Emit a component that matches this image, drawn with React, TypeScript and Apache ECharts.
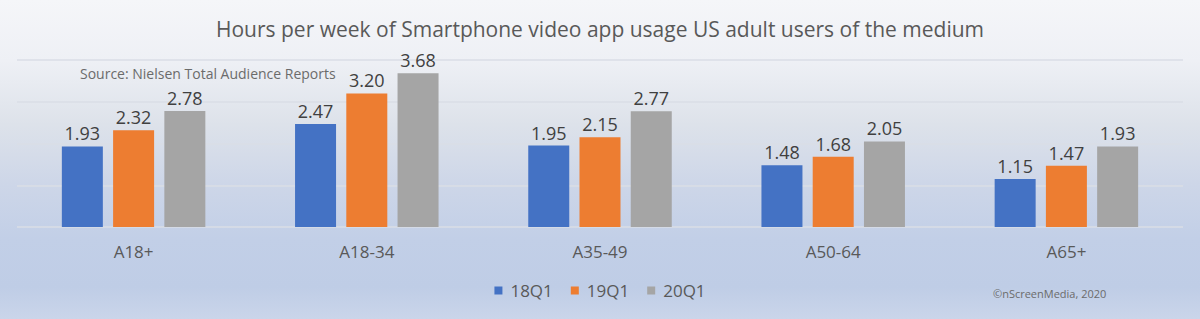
import React, { useEffect, useRef } from "react";
import * as echarts from "echarts";

const categories = ["A18+", "A18-34", "A35-49", "A50-64", "A65+"];
const seriesNames = ["18Q1", "19Q1", "20Q1"];
const q18 = [1.93, 2.47, 1.95, 1.48, 1.15];
const q19 = [2.32, 3.2, 2.15, 1.68, 1.47];
const q20 = [2.78, 3.68, 2.77, 2.05, 1.93];
const colors = ["#4472C4", "#ED7D31", "#A5A5A5"];
const yTicks = [0, 1, 2, 3, 4];

const FONT = "'Open Sans', 'Liberation Sans', sans-serif";

export default function App() {
  const ref = useRef<HTMLDivElement>(null);
  useEffect(() => {
    document.body.style.margin = "0";
    if (!ref.current) return;
    const chart = echarts.init(ref.current, null, { renderer: "svg" });
    const data = [q18, q19, q20];
    chart.setOption({
      animation: false,
      backgroundColor: {
        type: "linear",
        x: 0,
        y: 0,
        x2: 0,
        y2: 1,
        colorStops: [
          { offset: 0, color: "#f5f6f9" },
          { offset: 0.19, color: "#eef0f5" },
          { offset: 0.39, color: "#dde2ea" },
          { offset: 0.58, color: "#cdd6e8" },
          { offset: 0.75, color: "#c2cfe7" },
          { offset: 0.9, color: "#bfcde6" },
          { offset: 1, color: "#cad5ea" },
        ],
      },
      title: {
        text: "Hours per week of Smartphone video app usage US adult users of the medium",
        left: "center",
        top: 13,
        textStyle: { fontFamily: FONT, fontSize: 21, fontWeight: "normal", color: "#595959" },
      },
      legend: {
        data: seriesNames,
        bottom: 15,
        left: "center",
        itemWidth: 8,
        itemHeight: 8,
        itemGap: 18,
        icon: "rect",
        textStyle: { fontFamily: FONT, fontSize: 17, color: "#595959", padding: [0, 0, 0, 3] },
      },
      grid: { left: 17, right: 17, top: 60, bottom: 92 },
      xAxis: {
        type: "category",
        data: categories,
        axisLine: { show: false },
        axisTick: { show: false },
        axisLabel: { fontFamily: FONT, fontSize: 17, color: "#595959", margin: 16 },
      },
      yAxis: {
        type: "value",
        min: yTicks[0],
        max: yTicks[yTicks.length - 1],
        interval: 1,
        axisLabel: { show: false },
        axisLine: { show: false },
        axisTick: { show: false },
        splitLine: { lineStyle: { color: "#dadee6", width: 1.5 } },
      },
      series: seriesNames.map((name, i) => ({
        name,
        type: "bar",
        data: data[i],
        barWidth: 41,
        barGap: "25%",
        itemStyle: { color: colors[i] },
        label: {
          show: true,
          position: "top",
          distance: 4,
          fontFamily: FONT,
          fontSize: 18,
          color: "#404040",
          formatter: (p: any) => Number(p.value).toFixed(2),
        },
      })),
      graphic: [
        {
          type: "text",
          left: 80,
          top: 66,
          style: {
            text: "Source: Nielsen Total Audience Reports",
            fontFamily: FONT,
            fontSize: 14,
            fill: "#6b6b6b",
          },
        },
        {
          type: "text",
          left: 993,
          top: 288,
          style: {
            text: "©nScreenMedia, 2020",
            fontFamily: FONT,
            fontSize: 11,
            fill: "#6b6b6b",
          },
        },
      ],
    });
    return () => chart.dispose();
  }, []);
  return <div ref={ref} style={{ width: 1200, height: 319 }} />;
}
